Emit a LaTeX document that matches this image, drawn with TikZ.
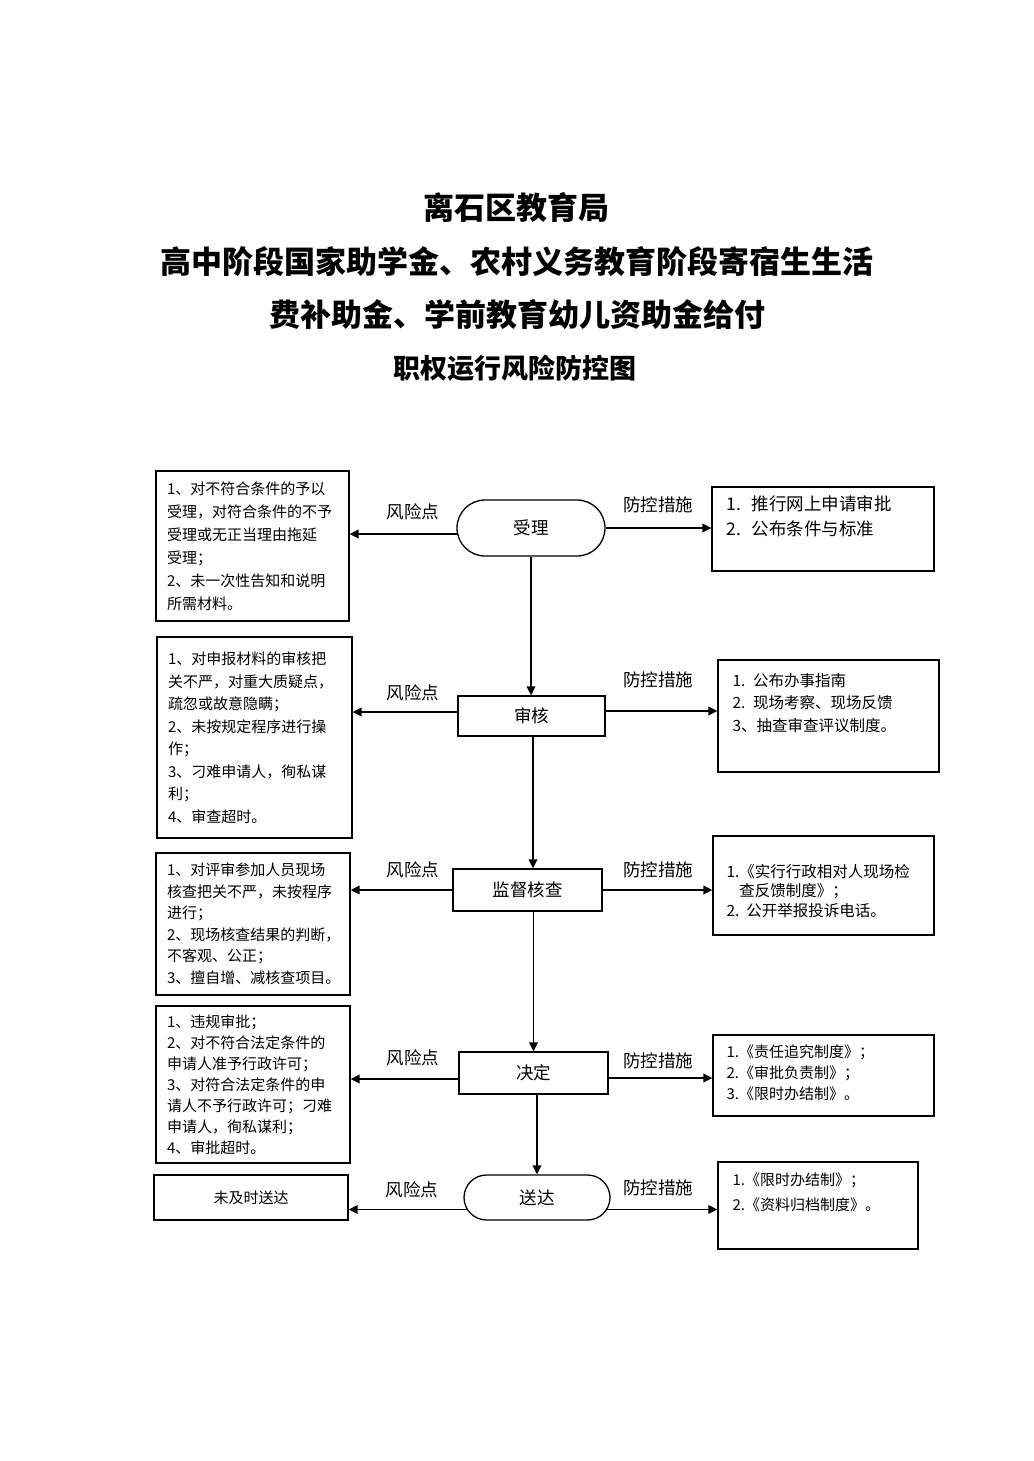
\documentclass[tikz,border=0pt]{standalone}
\usepackage{fontspec}
\newfontfamily\cjk{Noto Sans CJK SC}
\usetikzlibrary{shapes.misc,arrows.meta}
\begin{document}
\begin{tikzpicture}[x=1pt,y=-1pt,
  box/.style={draw, line width=1.3pt, inner sep=0pt},
  lbox/.style={box, inner xsep=11pt, align=left, font={\cjk\fontsize{15}{#1}\selectfont}},
  rtext/.style 2 args={anchor=north west, inner sep=0pt, align=left, font={\cjk\fontsize{#1}{#2}\selectfont}},
  proc/.style={draw, line width=1.3pt, inner sep=0pt, font={\cjk\fontsize{17.5}{20}\selectfont}},
  stad/.style={proc, rounded rectangle},
  lab/.style={inner sep=0pt, font={\cjk\fontsize{17.5}{20}\selectfont}},
  arr/.style={line width=1.7pt, -{Triangle[length=9pt,width=8.5pt]}},
  ttl/.style={inner sep=0pt, font={\cjk\bfseries\fontsize{31}{36}\selectfont}},
  ttlb/.style={inner sep=0pt, font={\cjk\bfseries\fontsize{27}{32}\selectfont}}
]
\useasboundingbox[fill=white] (0,0) rectangle (1033,1461);

% titles
\node[ttl] (t1) at (516,208) {离石区教育局};
\node[ttl] (t2) at (517,262) {高中阶段国家助学金、农村义务教育阶段寄宿生生活};
\node[ttl] (t3) at (517,315) {费补助金、学前教育幼儿资助金给付};
\node[ttlb] (t4) at (515,368) {职权运行风险防控图};

% center process nodes
\node[stad, minimum width=148pt, minimum height=56pt] (shouli) at (531,528) {受理};
\node[proc, minimum width=147pt, minimum height=40pt] (shenhe) at (531.5,716) {审核};
\node[proc, minimum width=149pt, minimum height=42pt] (jiandu) at (527.5,890) {监督核查};
\node[proc, minimum width=149pt, minimum height=42pt] (juedin) at (533.5,1073) {决定};
\node[stad, minimum width=146pt, minimum height=45pt] (songda) at (537,1197.5) {送达};

% left risk boxes
\node[lbox=23, text width=171pt, minimum height=150pt] (L1) at (252.5,546)
 {1、对不符合条件的予以\\受理，对符合条件的不予\\受理或无正当理由拖延\\受理；\\2、未一次性告知和说明\\所需材料。};
\node[lbox=22.5, text width=173pt, minimum height=201pt] (L2) at (254.5,737.5)
 {1、对申报材料的审核把\\关不严，对重大质疑点，\\疏忽或故意隐瞒；\\2、未按规定程序进行操\\作；\\3、刁难申请人，徇私谋\\利；\\4、审查超时。};
\node[lbox=21.5, text width=172pt, minimum height=142pt] (L3) at (253,924)
 {1、对评审参加人员现场\\核查把关不严，未按程序\\进行；\\2、现场核查结果的判断，\\不客观、公正；\\3、擅自增、减核查项目。};
\node[lbox=21, text width=172pt, minimum height=157pt] (L4) at (253,1084.5)
 {1、违规审批；\\2、对不符合法定条件的\\申请人准予行政许可；\\3、对符合法定条件的申\\请人不予行政许可；刁难\\申请人，徇私谋利；\\4、审批超时。};
\node[box, minimum width=194pt, minimum height=45pt, font={\cjk\fontsize{15}{18}\selectfont}] (L5) at (251,1197.5) {未及时送达};

% right measure boxes
\node[box, minimum width=222pt, minimum height=84pt] (R1) at (823,529) {};
\node[box, minimum width=221pt, minimum height=112pt] (R2) at (828.5,716) {};
\node[box, minimum width=221pt, minimum height=99pt] (R3) at (823.5,885.5) {};
\node[box, minimum width=221pt, minimum height=81pt] (R4) at (823.5,1075.5) {};
\node[box, minimum width=200pt, minimum height=87pt] (R5) at (818,1205.5) {};

\node[rtext={17.5}{25}] (T1) at ([xshift=15pt,yshift=-9pt]R1.north west)
 {1.\hspace{0.6em}推行网上申请审批\\2.\hspace{0.6em}公布条件与标准};
\node[rtext={15.5}{22.5}] (T2) at ([xshift=15pt,yshift=-13.5pt]R2.north west)
 {1.\hspace{0.5em}公布办事指南\\2.\hspace{0.5em}现场考察、现场反馈\\3、抽查审查评议制度。};
\node[rtext={15.5}{19.5}] (T3) at ([xshift=14pt,yshift=-28.5pt]R3.north west)
 {1.《实行行政相对人现场检\\\phantom{1.}查反馈制度》；\\2.\hspace{0.45em}公开举报投诉电话。};
\node[rtext={15}{21}] (T4) at ([xshift=14pt,yshift=-10.5pt]R4.north west)
 {1.《责任追究制度》；\\2.《审批负责制》；\\3.《限时办结制》。};
\node[rtext={15}{25}] (T5) at ([xshift=15pt,yshift=-11.5pt]R5.north west)
 {1.《限时办结制》；\\2.《资料归档制度》。};

% labels
\node[lab] (r1) at (413,512) {风险点};
\node[lab] (c1) at (658,505) {防控措施};
\node[lab] (r2) at (413,693) {风险点};
\node[lab] (c2) at (658,680) {防控措施};
\node[lab] (r3) at (413,870) {风险点};
\node[lab] (c3) at (658,870) {防控措施};
\node[lab] (r4) at (413,1058) {风险点};
\node[lab] (c4) at (658,1061) {防控措施};
\node[lab] (r5) at (412,1190) {风险点};
\node[lab] (c5) at (658,1188) {防控措施};

% helper coordinates
\coordinate (s1w) at ([xshift=0.6pt,yshift=-6pt]shouli.west);
\coordinate (j4w) at ([yshift=-6pt]juedin.west);
\coordinate (j4e) at ([yshift=-5pt]juedin.east);
\coordinate (s5w) at ([xshift=3.5pt,yshift=-12pt]songda.west);
\coordinate (s5e) at ([xshift=-3.5pt,yshift=-12pt]songda.east);
\coordinate (h2w) at ([yshift=4pt]shenhe.west);
\coordinate (h2e) at ([yshift=5pt]shenhe.east);

% connectors
\draw[arr] (s1w) -- (s1w -| L1.east);
\draw[arr] (shouli.east) -- (shouli.east -| R1.west);
\draw[arr] (shouli.south) -- (shouli.south |- shenhe.north);
\draw[arr] (h2w) -- (h2w -| L2.east);
\draw[arr] (h2e) -- (h2e -| R2.west);
\draw[arr] ([xshift=1.5pt]shenhe.south) -- ([xshift=1.5pt]shenhe.south |- jiandu.north);
\draw[arr] (jiandu.west) -- (jiandu.west -| L3.east);
\draw[arr] (jiandu.east) -- (jiandu.east -| R3.west);
\draw[arr] (jiandu.south -| juedin.north) -- (juedin.north);
\draw[arr] (j4w) -- (j4w -| L4.east);
\draw[arr] (j4e) -- (j4e -| R4.west);
\draw[arr] (juedin.south -| songda.north) -- (songda.north);
\draw[arr] (s5w) -- (s5w -| L5.east);
\draw[arr] (s5e) -- (s5e -| R5.west);
\end{tikzpicture}
\end{document}
